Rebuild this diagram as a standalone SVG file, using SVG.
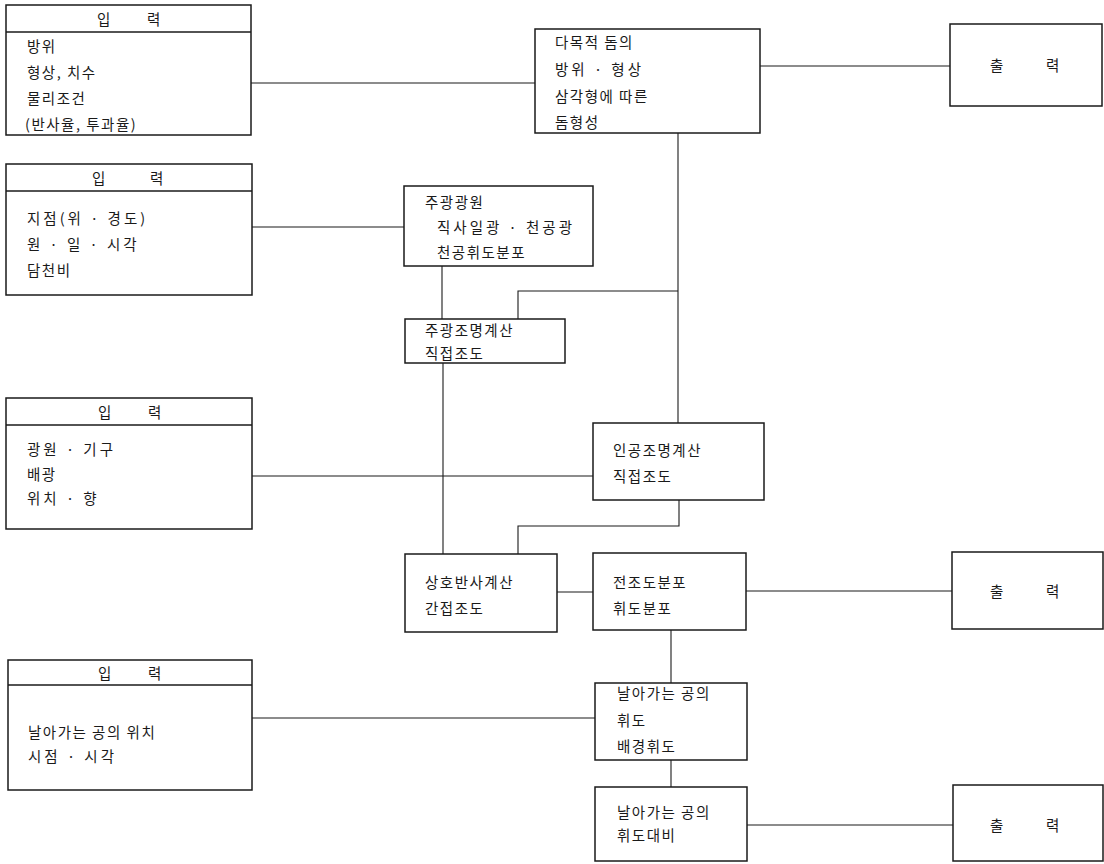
<svg xmlns="http://www.w3.org/2000/svg" width="1104" height="864" viewBox="0 0 1104 864">
<style>
.box{fill:#fff;stroke:#1a1a1a;stroke-width:1.5}
.hdr{stroke:#1a1a1a;stroke-width:1.3}
.con{fill:none;stroke:#1a1a1a;stroke-width:1.1}
text{font-family:"Noto Sans CJK KR","Noto Sans CJK JP",sans-serif;font-size:14.5px;letter-spacing:1.5px;fill:#1a1a1a}
.w{letter-spacing:3px}
</style>
<rect width="1104" height="864" fill="#fff"/>
<g id="connectors">
<line class="con" x1="251" y1="83" x2="535" y2="83"/>
<line class="con" x1="760" y1="66" x2="950" y2="66"/>
<line class="con" x1="252" y1="227" x2="404" y2="227"/>
<line class="con" x1="678" y1="133" x2="678" y2="423"/>
<line class="con" x1="442" y1="266" x2="442" y2="319"/>
<polyline class="con" points="518,319 518,291 678,291"/>
<line class="con" x1="443" y1="363" x2="443" y2="554"/>
<line class="con" x1="252" y1="476" x2="593" y2="476"/>
<polyline class="con" points="679,500 679,526 518,526 518,554"/>
<line class="con" x1="557" y1="592" x2="593" y2="592"/>
<line class="con" x1="746" y1="591" x2="952" y2="591"/>
<line class="con" x1="671" y1="630" x2="671" y2="683"/>
<line class="con" x1="252" y1="718" x2="595" y2="718"/>
<line class="con" x1="671" y1="760" x2="671" y2="787"/>
<line class="con" x1="747" y1="825" x2="953" y2="825"/>
</g>
<g id="in1">
<rect class="box" x="6" y="5" width="245" height="130"/>
<line class="hdr" x1="6" y1="32" x2="251" y2="32"/>
<text x="97" y="25">입</text><text x="147" y="25">력</text>
<text x="27" y="52">방위</text>
<text x="27" y="78">형상, 치수</text>
<text x="27" y="104">물리조건</text>
<text x="25" y="130">(반사율, 투과율)</text>
</g>
<g id="in2">
<rect class="box" x="6" y="164" width="246" height="131"/>
<line class="hdr" x1="6" y1="191" x2="252" y2="191"/>
<text x="92" y="184">입</text><text x="150" y="184">력</text>
<text class="w" x="27" y="224">지점(위 · 경도)</text>
<text class="w" x="27" y="250">원 · 일 · 시각</text>
<text x="27" y="276">담천비</text>
</g>
<g id="in3">
<rect class="box" x="6" y="398" width="246" height="131"/>
<line class="hdr" x1="6" y1="425" x2="252" y2="425"/>
<text x="98" y="418">입</text><text x="148" y="418">력</text>
<text class="w" x="27" y="455">광원 · 기구</text>
<text x="27" y="480">배광</text>
<text class="w" x="27" y="504">위치 · 향</text>
</g>
<g id="in4">
<rect class="box" x="8" y="660" width="244" height="130"/>
<line class="hdr" x1="8" y1="685" x2="252" y2="685"/>
<text x="98" y="679">입</text><text x="148" y="679">력</text>
<text x="28" y="738">날아가는 공의 위치</text>
<text class="w" x="28" y="762">시점 · 시각</text>
</g>
<g id="dome">
<rect class="box" x="535" y="29" width="225" height="104"/>
<text x="555" y="48">다목적 돔의</text>
<text class="w" x="555" y="75">방위 · 형상</text>
<text x="555" y="102">삼각형에 따른</text>
<text x="555" y="128">돔형성</text>
</g>
<g id="out1">
<rect class="box" x="950" y="24" width="152" height="82"/>
<text x="990" y="71">출</text><text x="1046" y="71">력</text>
</g>
<g id="daylight-source">
<rect class="box" x="404" y="186" width="189" height="80"/>
<text x="425" y="208">주광광원</text>
<text class="w" x="437" y="233">직사일광 · 천공광</text>
<text x="437" y="258">천공휘도분포</text>
</g>
<g id="daylight-calc">
<rect class="box" x="405" y="319" width="160" height="44"/>
<text x="425" y="336">주광조명계산</text>
<text x="425" y="359">직접조도</text>
</g>
<g id="artificial-calc">
<rect class="box" x="593" y="423" width="171" height="77"/>
<text x="613" y="456">인공조명계산</text>
<text x="613" y="482">직접조도</text>
</g>
<g id="interreflection">
<rect class="box" x="405" y="554" width="152" height="78"/>
<text x="425" y="588">상호반사계산</text>
<text x="425" y="614">간접조도</text>
</g>
<g id="total-illum">
<rect class="box" x="593" y="553" width="153" height="77"/>
<text x="613" y="588">전조도분포</text>
<text x="613" y="614">휘도분포</text>
</g>
<g id="out2">
<rect class="box" x="952" y="552" width="151" height="77"/>
<text x="990" y="597">출</text><text x="1046" y="597">력</text>
</g>
<g id="ball-lum">
<rect class="box" x="595" y="683" width="152" height="77"/>
<text x="617" y="699">날아가는 공의</text>
<text x="617" y="726">휘도</text>
<text x="617" y="752">배경휘도</text>
</g>
<g id="ball-contrast">
<rect class="box" x="595" y="787" width="152" height="74"/>
<text x="617" y="818">날아가는 공의</text>
<text x="617" y="841">휘도대비</text>
</g>
<g id="out3">
<rect class="box" x="953" y="785" width="150" height="76"/>
<text x="990" y="831">출</text><text x="1046" y="831">력</text>
</g>
</svg>
